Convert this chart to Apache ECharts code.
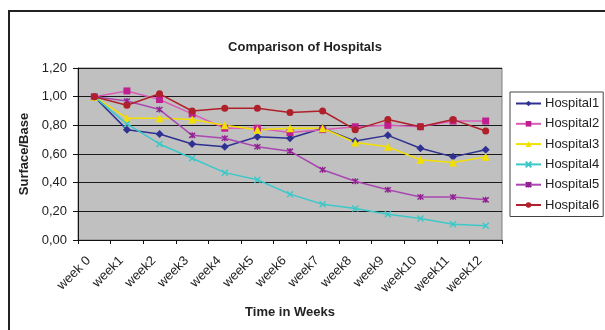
<!DOCTYPE html>
<html>
<head>
<meta charset="utf-8">
<style>
  html, body { margin: 0; padding: 0; background: #ffffff; }
  #chart { width: 605px; height: 330px; }
</style>
<script src="https://cdn.jsdelivr.net/npm/echarts@6/dist/echarts.min.js"></script>
</head>
<body>
<div id="chart"></div>
<script>
// Surface/Base ratio per hospital, weekly
const weeks = ['week 0', 'week1', 'week2', 'week3', 'week4', 'week5', 'week6',
               'week7', 'week8', 'week9', 'week10', 'week11', 'week12'];
const hospital1 = [1.00, 0.77, 0.74, 0.67, 0.65, 0.72, 0.71, 0.78, 0.69, 0.73, 0.64, 0.58, 0.63];
const hospital2 = [1.00, 1.04, 0.98, 0.88, 0.78, 0.78, 0.75, 0.77, 0.79, 0.80, 0.79, 0.83, 0.83];
const hospital3 = [1.00, 0.85, 0.85, 0.84, 0.80, 0.77, 0.78, 0.78, 0.68, 0.65, 0.56, 0.54, 0.58];
const hospital4 = [1.00, 0.81, 0.67, 0.57, 0.47, 0.42, 0.32, 0.25, 0.22, 0.18, 0.15, 0.11, 0.10];
const hospital5 = [1.00, 0.97, 0.91, 0.73, 0.71, 0.65, 0.62, 0.49, 0.41, 0.35, 0.30, 0.30, 0.28];
const hospital6 = [1.00, 0.94, 1.02, 0.90, 0.92, 0.92, 0.89, 0.90, 0.77, 0.84, 0.79, 0.84, 0.76];
const seriesNames = ['Hospital1', 'Hospital2', 'Hospital3', 'Hospital4', 'Hospital5', 'Hospital6'];

const FONT = '"Liberation Sans", Arial, sans-serif';

const crossPath = 'path://M0,0L10,10M10,0L0,10';
const starPath = 'path://M0,0L10,10M10,0L0,10M5,-1L5,11';

function lineSeries(name, data, lineColor, markColor, symbol, size, stroked) {
  return {
    name: name,
    type: 'line',
    data: data,
    symbol: symbol,
    symbolSize: size,
    showSymbol: true,
    lineStyle: { color: lineColor, width: 1.5 },
    itemStyle: stroked
      ? { color: 'rgba(0,0,0,0)', borderColor: markColor, borderWidth: 1.4 }
      : { color: markColor, borderColor: markColor, borderWidth: 0 },
    emphasis: { disabled: true },
    animation: false
  };
}

const chart = echarts.init(document.getElementById('chart'), null, { renderer: 'canvas' });

chart.setOption({
  backgroundColor: '#ffffff',
  animation: false,
  textStyle: { fontFamily: FONT },
  graphic: [
    {
      type: 'rect',
      shape: { x: 9, y: 11, width: 700, height: 400 },
      style: { fill: 'none', stroke: '#222222', lineWidth: 2 },
      z: 0
    },
    {
      type: 'text',
      x: 305, y: 47,
      style: {
        text: 'Comparison of Hospitals',
        font: 'bold 13px ' + FONT,
        fill: '#222222',
        align: 'center',
        verticalAlign: 'middle'
      }
    }
  ],
  grid: {
    left: 78, right: 103, top: 68, bottom: 90,
    show: true,
    backgroundColor: '#c0c0c0',
    borderColor: '#808080',
    borderWidth: 1
  },
  legend: {
    orient: 'vertical',
    left: 510, top: 92,
    data: seriesNames,
    itemWidth: 25,
    itemHeight: 7,
    itemGap: 7.3,
    padding: [5, 4, 5, 5],
    backgroundColor: '#ffffff',
    borderColor: '#444444',
    borderWidth: 1,
    borderRadius: 0,
    textStyle: { fontFamily: FONT, fontSize: 13, color: '#222222', padding: [0, 0, 0, -1] },
    selectedMode: false
  },
  xAxis: {
    type: 'category',
    data: weeks,
    boundaryGap: true,
    name: 'Time in Weeks',
    nameLocation: 'middle',
    nameGap: 66,
    nameTextStyle: { fontFamily: FONT, fontSize: 13, fontWeight: 'bold', color: '#222222' },
    axisLine: { show: true, lineStyle: { color: '#111111', width: 1 } },
    axisTick: { show: true, inside: false, length: 4, alignWithLabel: false, lineStyle: { color: '#111111' } },
    axisLabel: {
      rotate: 45,
      interval: 0,
      margin: 13,
      padding: [0, 8, 0, 0],
      fontFamily: FONT,
      fontSize: 13,
      color: '#222222'
    },
    splitLine: { show: false }
  },
  yAxis: {
    type: 'value',
    min: 0,
    max: 1.2,
    interval: 0.2,
    name: 'Surface/Base',
    nameLocation: 'middle',
    nameGap: 41,
    nameRotate: 90,
    nameTextStyle: { fontFamily: FONT, fontSize: 13, fontWeight: 'bold', color: '#222222' },
    axisLine: { show: true, lineStyle: { color: '#111111', width: 1 } },
    axisTick: { show: true, inside: false, length: 5, lineStyle: { color: '#111111' } },
    axisLabel: {
      margin: 11,
      fontFamily: FONT,
      fontSize: 13,
      color: '#222222',
      formatter: function (v) { return v.toFixed(2).replace('.', ','); }
    },
    splitLine: { show: true, lineStyle: { color: '#1a1a1a', width: 1 } }
  },
  series: [
    lineSeries('Hospital1', hospital1, '#2e3192', '#2e3192', 'diamond', 8, false),
    lineSeries('Hospital2', hospital2, '#d85cb8', '#c0208f', 'rect', 7, false),
    lineSeries('Hospital3', hospital3, '#f2df00', '#f2df00', 'triangle', 8, false),
    lineSeries('Hospital4', hospital4, '#3cc8c8', '#3cc8c8', crossPath, 6, true),
    lineSeries('Hospital5', hospital5, '#a848b0', '#902090', starPath, 6, true),
    lineSeries('Hospital6', hospital6, '#b0202a', '#b0202a', 'circle', 7, false)
  ]
});
</script>
</body>
</html>
